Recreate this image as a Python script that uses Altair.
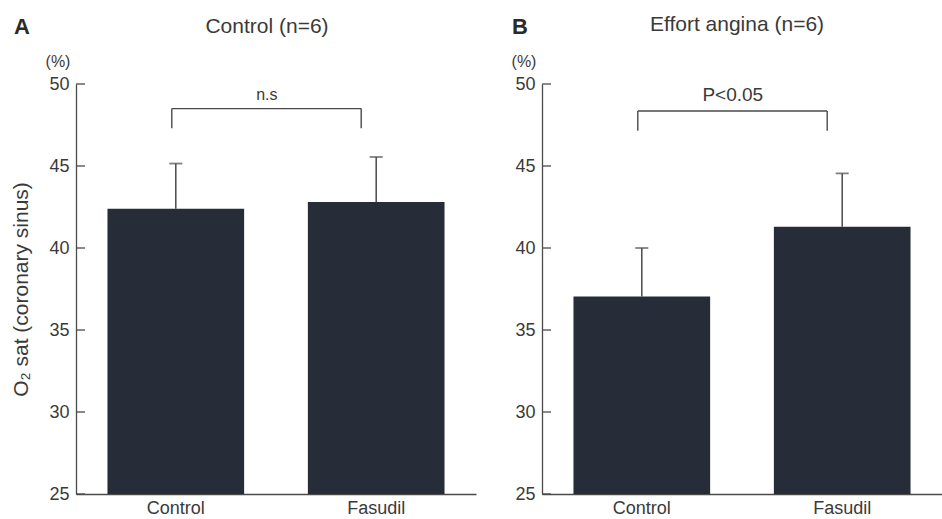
import altair as alt
import pandas as pd

# ---- data ----
groups = ["Control", "Fasudil"]
panel_letters = ["A", "B"]
panel_titles = ["Control (n=6)", "Effort angina (n=6)"]
a_means = [42.4, 42.8]
a_upper = [45.15, 45.55]
b_means = [37.05, 41.3]
b_upper = [40.0, 44.55]
y_ticks = [25, 30, 35, 40, 45, 50]
stat_labels = ["n.s", "P<0.05"]
bracket_top = [48.5, 48.35]
bracket_foot = [47.3, 47.15]

FONT = "Liberation Sans"
TEXT = "#3a3a3a"
LINE = "#4a4a4a"
BAR = "#1f2632"
W, H = 400, 410


def panel(i, means, upper, show_ytitle, title_dx, title_dy, letter_dx, stat_size):
    bars = pd.DataFrame({"group": groups, "mean": means, "upper": upper})
    br = pd.DataFrame({"left": [groups[0]], "right": [groups[1]],
                       "top": [bracket_top[i]], "foot": [bracket_foot[i]],
                       "label": [stat_labels[i]]})
    ticks = pd.DataFrame({"v": y_ticks})
    one = pd.DataFrame({"t": ["(%)"], "letter": [panel_letters[i]],
                        "title": [panel_titles[i]]})

    xs = alt.Scale(domain=groups, paddingInner=0.318, paddingOuter=0.157)
    ys = alt.Scale(domain=[25, 50], nice=False, zero=False)
    xaxis = alt.Axis(title=None, labelAngle=0, ticks=False, labelFontSize=18,
                     labelPadding=5, labelColor=TEXT, labelFont=FONT,
                     domainColor=LINE, domainWidth=1.3)
    yaxis = alt.Axis(values=y_ticks, ticks=False, grid=False, labelFontSize=18,
                     labelPadding=7, labelColor=TEXT, labelFont=FONT,
                     domainColor=LINE, domainWidth=1.3,
                     title="O₂ sat (coronary sinus)" if show_ytitle else None,
                     titleFont=FONT, titleFontSize=21, titleFontWeight="normal",
                     titleColor=TEXT, titlePadding=17)

    def X(f):
        return alt.X(f, scale=xs, axis=xaxis)

    def Y(f):
        return alt.Y(f, scale=ys, axis=yaxis)

    base = alt.Chart(bars)
    bar = base.mark_bar(color=BAR, opacity=0.97).encode(
        x=X("group:N"), y=Y("mean:Q"), y2=alt.datum(25))
    err = base.mark_rule(color=LINE, strokeWidth=1.5).encode(
        x=X("group:N"), y=Y("mean:Q"), y2="upper:Q")
    cap = base.mark_tick(color=LINE, thickness=1.8, size=13).encode(
        x=X("group:N"), y=Y("upper:Q"))

    bb = alt.Chart(br)
    hline = bb.mark_rule(color=LINE, strokeWidth=1.4, xOffset=-4,
                         x2Offset=-15).encode(
        x=X("left:N"), x2="right:N", y=Y("top:Q"))
    lleg = bb.mark_rule(color=LINE, strokeWidth=1.4, xOffset=-4).encode(
        x=X("left:N"), y=Y("foot:Q"), y2="top:Q")
    rleg = bb.mark_rule(color=LINE, strokeWidth=1.4, xOffset=-15).encode(
        x=X("right:N"), y=Y("foot:Q"), y2="top:Q")
    stat = bb.mark_text(font=FONT, fontSize=stat_size, color=TEXT, dx=91,
                        dy=-6, baseline="bottom").encode(
        x=X("left:N"), y=Y("top:Q"), text="label:N")

    tk = alt.Chart(ticks).mark_rule(color=LINE, strokeWidth=1.3).encode(
        y=Y("v:Q"), x=alt.value(0), x2=alt.value(9))

    oc = alt.Chart(one)
    pct = oc.mark_text(font=FONT, fontSize=16, color=TEXT).encode(
        x=alt.value(-18), y=alt.value(-22), text="t:N")
    letter = oc.mark_text(font=FONT, fontSize=22, fontWeight="bold",
                          color="#2a2a2a", align="left",
                          baseline="alphabetic").encode(
        x=alt.value(letter_dx), y=alt.value(-50), text="letter:N")
    title = oc.mark_text(font=FONT, fontSize=21, color=TEXT,
                         baseline="alphabetic").encode(
        x=alt.value(W / 2 + title_dx), y=alt.value(title_dy), text="title:N")

    return alt.layer(bar, err, cap, hline, lleg, rleg, stat, tk, pct,
                     letter, title).properties(width=W, height=H)


pa = panel(0, a_means, a_upper, True, -9, -51, -62, 16)
pb = panel(1, b_means, b_upper, False, -5, -53, -30, 19)

chart = alt.hconcat(pa, pb, spacing=35).properties(
    padding={"left": 10, "top": 14, "right": 0, "bottom": 0}
).configure_view(stroke=None)

chart.save("out.html", embed_options={"renderer": "svg", "actions": False})
